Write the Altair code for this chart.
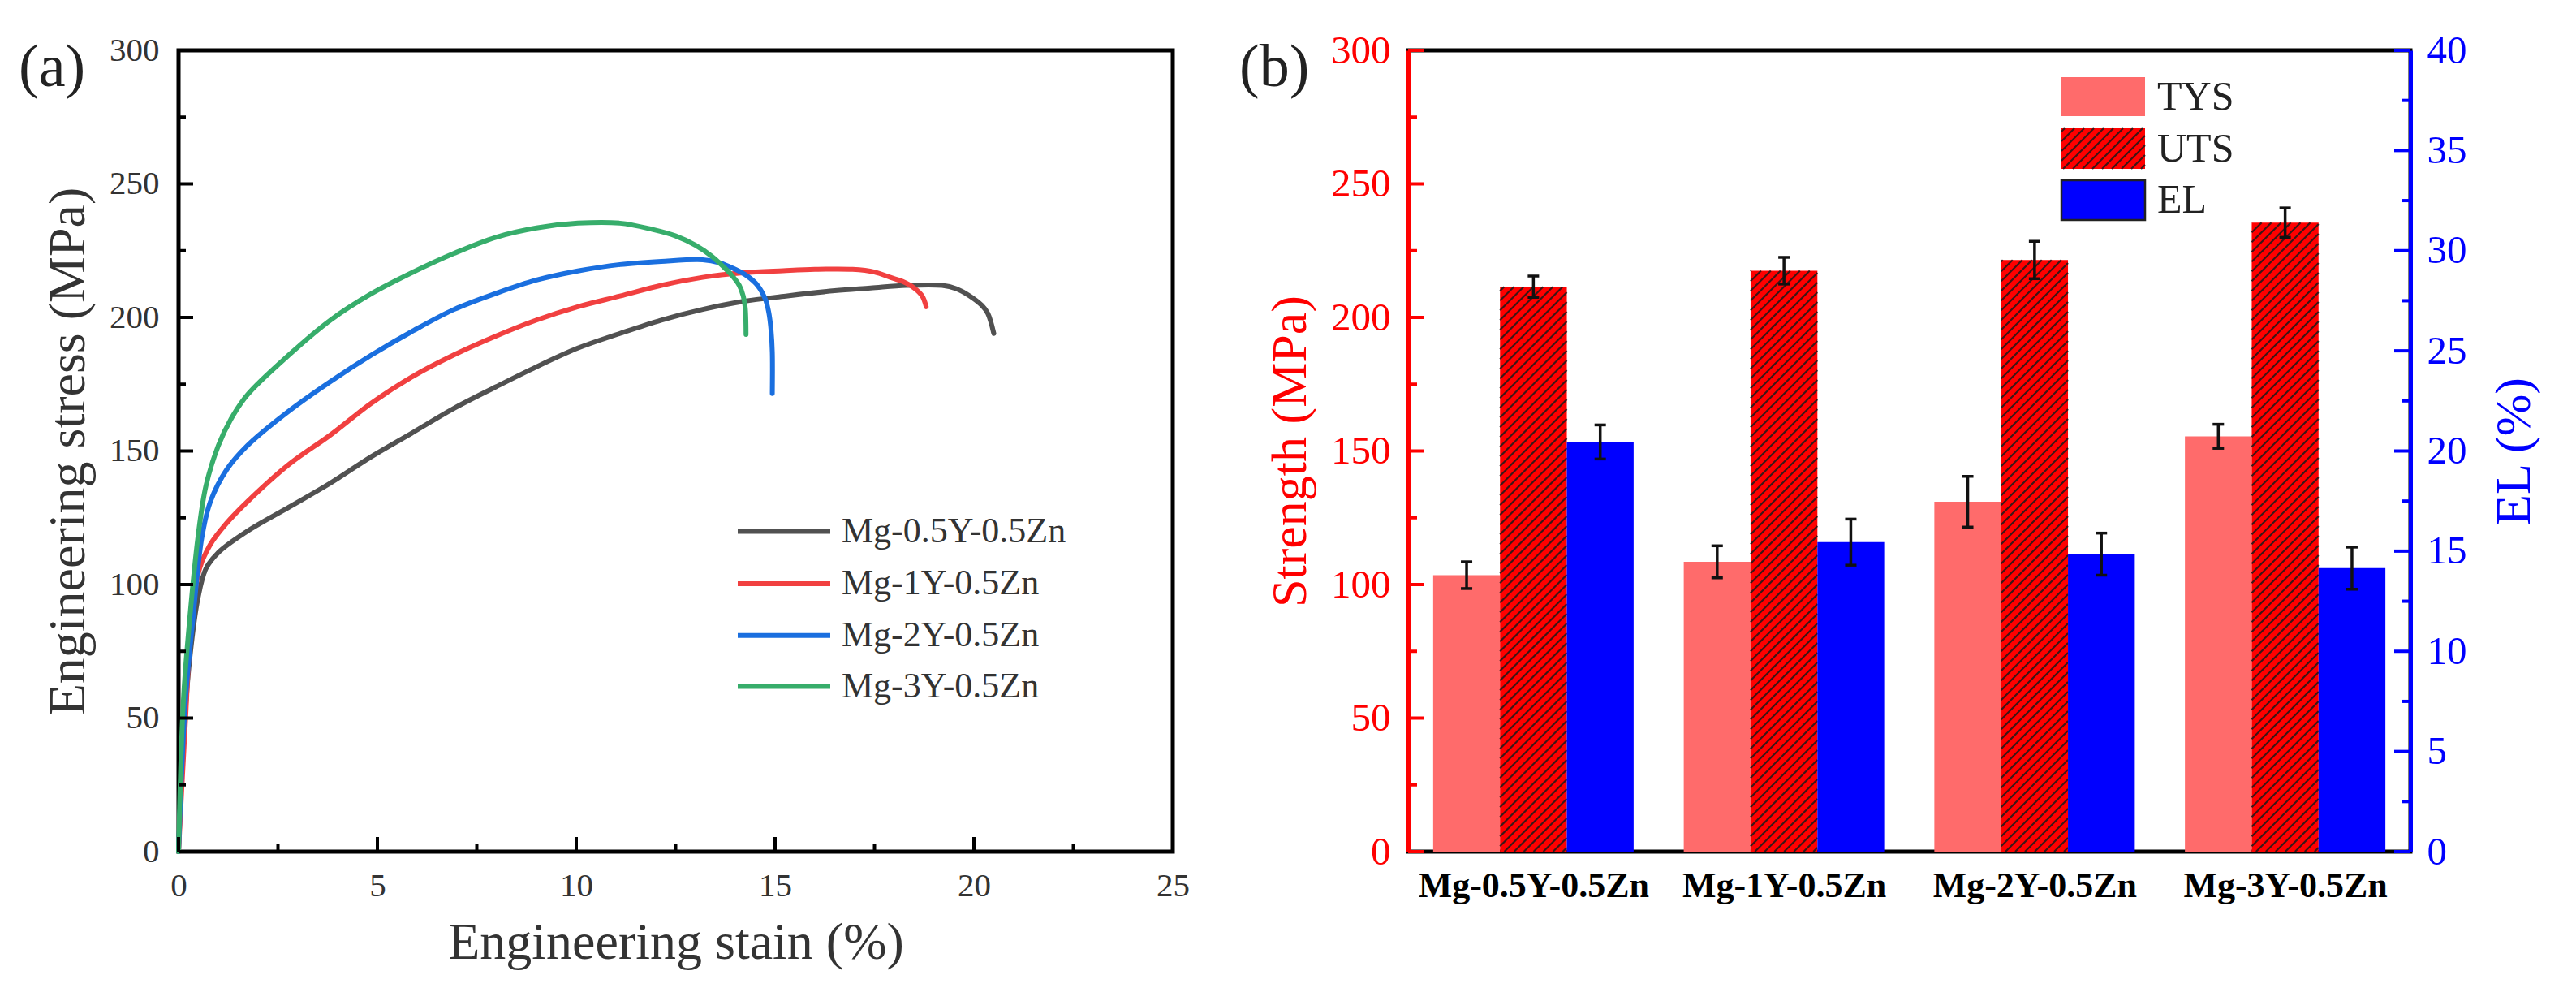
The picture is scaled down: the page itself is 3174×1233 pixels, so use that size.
import altair as alt
import pandas as pd

# ---------------- data ----------------
alloys = ["Mg-0.5Y-0.5Zn", "Mg-1Y-0.5Zn", "Mg-2Y-0.5Zn", "Mg-3Y-0.5Zn"]
line_colors = ["#515151", "#F14040", "#1A6FDF", "#37AD6B"]

strain_05y = [0, 0.12, 0.28, 0.49, 0.69, 1.0, 1.73, 2.78, 3.82, 4.86, 5.9, 6.93, 7.98, 9.0,
              10.04, 11.1, 12.14, 13.18, 14.2, 15.27, 16.5, 17.4, 18.3, 19.2, 19.55, 19.9,
              20.2, 20.35, 20.5]
stress_05y = [0, 41, 72, 95, 106, 112, 120, 129, 138, 148, 157, 166, 174, 181.5,
              188.5, 194, 199, 203, 206, 208, 210, 211, 212, 212, 210.8, 208,
              204.5, 201.5, 194]

strain_1y = [0, 0.17, 0.33, 0.53, 0.8, 1.21, 1.73, 2.78, 3.82, 4.86, 5.9, 6.93, 7.98, 9.0,
             10.04, 11.1, 12.14, 13.18, 14.2, 15.2, 16.0, 16.95, 17.5, 17.9, 18.2, 18.5,
             18.7, 18.8]
stress_1y = [0, 48, 87, 106, 115, 123, 131, 145, 156, 168, 178, 186, 193, 199,
             204, 208, 212, 215, 216.7, 217.5, 218, 218, 217, 215, 213.5, 211,
             208, 204]

strain_2y = [0, 0.17, 0.36, 0.59, 0.8, 1.21, 1.73, 2.78, 3.82, 4.86, 5.9, 6.93, 7.98, 9.0,
             10.04, 11.1, 12.14, 13.18, 13.6, 14.0, 14.3, 14.56, 14.75, 14.84, 14.9, 14.93,
             14.93]
stress_2y = [0, 56, 87, 118, 131, 143, 152, 165, 176, 186, 195, 203, 209, 214,
             217.4, 219.8, 221, 221.6, 220.5, 218, 215.5, 212, 207, 202, 195, 187,
             171.5]

strain_3y = [0, 0.12, 0.28, 0.49, 0.69, 1.0, 1.32, 1.73, 2.78, 3.82, 4.86, 5.9, 6.93, 7.98,
             9.0, 10.04, 11.1, 11.9, 12.5, 13.0, 13.4, 13.7, 13.9, 14.1, 14.2, 14.25, 14.27]
stress_3y = [0, 56, 87, 118, 137, 152, 162, 171, 186, 199, 209, 217, 224, 230,
             233.5, 235.3, 235.3, 233, 230.5, 227, 223, 219, 216, 212, 208, 203.6, 193.6]

metrics = ["TYS", "UTS", "EL"]
bar_colors = ["#FF6B6B", "#FF0000", "#0000FF"]
tys = [103.5, 108.5, 131.0, 155.5]
tys_err = [5.0, 6.0, 9.5, 4.5]
uts = [211.5, 217.5, 221.5, 235.5]
uts_err = [4.0, 5.0, 7.0, 5.5]
el = [20.45, 15.45, 14.85, 14.15]
el_err = [0.85, 1.15, 1.05, 1.05]

# ---------------- layout constants ----------------
FONT = "Liberation Serif"
WA, HA = 1225, 987
WB, HB = 1235, 987
ONE = pd.DataFrame({"k": [0]})

# ================= panel (a) =================
rows = []
for name, xs, ys in zip(alloys, [strain_05y, strain_1y, strain_2y, strain_3y],
                        [stress_05y, stress_1y, stress_2y, stress_3y]):
    for i, (x, y) in enumerate(zip(xs, ys)):
        rows.append({"alloy": name, "strain": x, "stress": y, "idx": i})
curves_df = pd.DataFrame(rows)

xsa = alt.Scale(domain=[0, 25], nice=False, zero=False)
ysa = alt.Scale(domain=[0, 300], nice=False)
color_a = alt.Color("alloy:N", scale=alt.Scale(domain=alloys, range=line_colors), legend=None)

XT_A = "Engineering stain (%)"
YT_A = "Engineering stress (MPa)"

curves = alt.Chart(curves_df).mark_line(strokeWidth=6, strokeJoin="round", strokeCap="round",
                                        interpolate="catmull-rom").encode(
    x=alt.X("strain:Q", scale=xsa, title=XT_A,
            axis=alt.Axis(values=[0, 5, 10, 15, 20, 25], ticks=False, labelFont=FONT,
                          domain=False, labelFlush=False, labelFontSize=41, labelColor="#333",
                          labelPadding=22, titleFontSize=64, titleColor="#333", titlePadding=18)),
    y=alt.Y("stress:Q", scale=ysa, title=YT_A,
            axis=alt.Axis(values=list(range(0, 301, 50)), ticks=False, labelFont=FONT,
                          domain=False, labelFontSize=41, labelColor="#333", labelPadding=24,
                          titleFontSize=64, titleColor="#333", titlePadding=18)),
    color=color_a,
    order=alt.Order("idx:Q"),
)

def tick_rules(vals, scale, length, color, side, size=None, title=None):
    df = pd.DataFrame({"v": vals})
    if side == "left":
        enc = dict(y=alt.Y("v:Q", scale=scale, title=title), x=alt.value(0), x2=alt.value(length))
    elif side == "right":
        enc = dict(y=alt.Y("v:Q", scale=scale, title=title), x=alt.value(size - length), x2=alt.value(size))
    else:  # bottom
        enc = dict(x=alt.X("v:Q", scale=scale, title=title), y=alt.value(size), y2=alt.value(size - length))
    return alt.Chart(df).mark_rule(color=color, strokeWidth=4).encode(**enc)

ya_major = tick_rules(list(range(0, 301, 50)), ysa, 18, "black", "left", title=YT_A)
ya_minor = tick_rules(list(range(25, 300, 50)), ysa, 9, "black", "left", title=YT_A)
xa_major = tick_rules([0, 5, 10, 15, 20, 25], xsa, 18, "black", "bottom", HA, title=XT_A)
xa_minor = tick_rules([2.5, 7.5, 12.5, 17.5, 22.5], xsa, 9, "black", "bottom", HA, title=XT_A)

# legend (a): lines + labels placed in pixels inside the plot
leg_a_rows = [592.5, 657.0, 720.7, 783.6]
leg_a = []
for name, col, py in zip(alloys, line_colors, leg_a_rows):
    leg_a.append(alt.Chart(ONE).mark_rule(strokeWidth=6, color=col).encode(
        x=alt.value(689), x2=alt.value(803), y=alt.value(py)))
    leg_a.append(alt.Chart(ONE).mark_text(align="left", baseline="middle", font=FONT, fontSize=44,
                                          color="#333", text=name).encode(
        x=alt.value(817), y=alt.value(py)))
label_a = alt.Chart(ONE).mark_text(align="left", baseline="middle", font=FONT, fontSize=74,
                                   color="#222", text="(a)").encode(x=alt.value(-197), y=alt.value(22))

panel_a = alt.layer(curves, ya_major, ya_minor, xa_major, xa_minor, *leg_a, label_a).properties(
    width=WA, height=HA)

# ================= panel (b) =================
BW = 0.8 / 3
PXU = WB / 4.0
PYU = HB / 300.0
CAP = 7 / PXU

def bar_frame(vals, errs, k):
    xc = [g + (k - 1) * BW for g in range(4)]
    return pd.DataFrame({
        "xc": xc,
        "x1": [c - BW / 2 for c in xc],
        "x2": [c + BW / 2 for c in xc],
        "val": vals,
        "zero": [0] * 4,
        "lo": [v - e for v, e in zip(vals, errs)],
        "hi": [v + e for v, e in zip(vals, errs)],
        "cl": [c - CAP for c in xc],
        "cr": [c + CAP for c in xc],
    })

tys_df = bar_frame(tys, tys_err, 0)
uts_df = bar_frame(uts, uts_err, 1)
el_df = bar_frame(el, el_err, 2)

def caps_frame(df):
    a = df[["cl", "cr", "lo"]].rename(columns={"lo": "yv"})
    b = df[["cl", "cr", "hi"]].rename(columns={"hi": "yv"})
    return pd.concat([a, b], ignore_index=True)

xsb = alt.Scale(domain=[-0.5, 3.5], nice=False, zero=False)
ysS = alt.Scale(domain=[0, 300], nice=False)
ysE = alt.Scale(domain=[0, 40], nice=False)
YT_S = "Strength (MPa)"
YT_E = "EL (%)"

label_expr = "[" + ",".join("'" + a + "'" for a in alloys) + "][datum.value]"
xaxis_b = alt.Axis(values=[0, 1, 2, 3], labelExpr=label_expr, ticks=False, domain=False,
                   labelFlush=False, labelFontWeight="bold", labelFontSize=44, labelColor="black",
                   labelFont=FONT, labelLimit=0, labelPadding=20, title=None)
yaxis_S = alt.Axis(orient="left", values=list(range(0, 301, 50)), ticks=False, labelFont=FONT,
                   domainColor="#FF0000", domainWidth=5, labelColor="#FF0000", labelFontSize=49,
                   labelPadding=22, titleColor="#FF0000", titleFontSize=62, titlePadding=18, zindex=1)
yaxis_E = alt.Axis(orient="right", values=list(range(0, 41, 5)), ticks=False, labelFont=FONT,
                   domainColor="#0000FF", domainWidth=5, labelColor="#0000FF", labelFontSize=49,
                   labelPadding=20, titleColor="#0000FF", titleFontSize=62, titlePadding=28,
                   titleAngle=270, titleBaseline="top", zindex=1)

tys_bars = alt.Chart(tys_df).mark_rect(color=bar_colors[0]).encode(
    x=alt.X("x1:Q", scale=xsb, axis=xaxis_b, title=None), x2="x2:Q",
    y=alt.Y("val:Q", scale=ysS, axis=yaxis_S, title=YT_S), y2="zero:Q")
uts_bars = alt.Chart(uts_df).mark_rect(color=bar_colors[1]).encode(
    x=alt.X("x1:Q", scale=xsb, title=None), x2="x2:Q",
    y=alt.Y("val:Q", scale=ysS, title=YT_S), y2="zero:Q")

# hatch lines for UTS bars (fill pattern)
HS = 12
hatch_rows = []
for x1, v in zip(uts_df["x1"], uts_df["val"]):
    wpx, hpx = BW * PXU, v * PYU
    c = -wpx + 5
    while c < hpx:
        u0, u1 = max(0.0, -c), min(wpx, hpx - c)
        if u1 > u0:
            hatch_rows.append({"hx1": x1 + u0 / PXU, "hy1": (u0 + c) / PYU,
                               "hx2": x1 + u1 / PXU, "hy2": (u1 + c) / PYU})
        c += HS
hatch_df = pd.DataFrame(hatch_rows)
hatch = alt.Chart(hatch_df).mark_rule(color="#1a1a1a", strokeWidth=2.2, opacity=0.85).encode(
    x=alt.X("hx1:Q", scale=xsb, title=None), x2="hx2:Q",
    y=alt.Y("hy1:Q", scale=ysS, title=YT_S), y2="hy2:Q")

def err_layers(df, yscale, ytitle):
    stem = alt.Chart(df).mark_rule(color="#111", strokeWidth=3.5).encode(
        x=alt.X("xc:Q", scale=xsb, title=None),
        y=alt.Y("lo:Q", scale=yscale, title=ytitle), y2="hi:Q")
    caps = alt.Chart(caps_frame(df)).mark_rule(color="#111", strokeWidth=3.5).encode(
        x=alt.X("cl:Q", scale=xsb, title=None), x2="cr:Q",
        y=alt.Y("yv:Q", scale=yscale, title=ytitle))
    return [stem, caps]

yb_major = tick_rules(list(range(0, 301, 50)), ysS, 20, "#FF0000", "left", title=YT_S)
yb_minor = tick_rules(list(range(25, 300, 50)), ysS, 11, "#FF0000", "left", title=YT_S)

# legend (b) in pixels
sw_l, sw_r = 805, 908
sw_rows = [(33, 81), (96, 146), (160, 209)]
txt_rows = [58, 122, 185]
leg_b = []
for name, col, (t, b), ty in zip(metrics, bar_colors, sw_rows, txt_rows):
    if name == "EL":
        leg_b.append(alt.Chart(ONE).mark_rect(color=col, stroke="#222", strokeWidth=2.5).encode(
            x=alt.value(sw_l), x2=alt.value(sw_r), y=alt.value(t), y2=alt.value(b)))
    else:
        leg_b.append(alt.Chart(ONE).mark_rect(color=col).encode(
            x=alt.value(sw_l), x2=alt.value(sw_r), y=alt.value(t), y2=alt.value(b)))
    leg_b.append(alt.Chart(ONE).mark_text(align="left", baseline="middle", font=FONT, fontSize=50,
                                          color="#222", text=name).encode(
        x=alt.value(923), y=alt.value(ty)))
# hatch in the UTS swatch
sw_t, sw_b = sw_rows[1]
wpx, hpx = sw_r - sw_l, sw_b - sw_t
c = -wpx + 5
while c < hpx:
    u0, u1 = max(0.0, -c), min(wpx, hpx - c)
    if u1 > u0:
        leg_b.append(alt.Chart(ONE).mark_rule(color="#1a1a1a", strokeWidth=2.2, opacity=0.85).encode(
            x=alt.value(sw_l + u0), y=alt.value(sw_b - (u0 + c)),
            x2=alt.value(sw_l + u1), y2=alt.value(sw_b - (u1 + c))))
    c += HS
label_b = alt.Chart(ONE).mark_text(align="left", baseline="middle", font=FONT, fontSize=74,
                                   color="#222", text="(b)").encode(x=alt.value(-208), y=alt.value(22))

strength = alt.layer(tys_bars, uts_bars, hatch, *err_layers(tys_df, ysS, YT_S),
                     *err_layers(uts_df, ysS, YT_S), yb_major, yb_minor, *leg_b, label_b)

el_bars = alt.Chart(el_df).mark_rect(color=bar_colors[2]).encode(
    x=alt.X("x1:Q", scale=xsb, title=None), x2="x2:Q",
    y=alt.Y("val:Q", scale=ysE, axis=yaxis_E, title=YT_E), y2="zero:Q")
ye_major = tick_rules(list(range(0, 41, 5)), ysE, 20, "#0000FF", "right", WB, title=YT_E)
ye_minor = tick_rules([2.5 + 5 * i for i in range(8)], ysE, 11, "#0000FF", "right", WB, title=YT_E)
elong = alt.layer(el_bars, *err_layers(el_df, ysE, YT_E), ye_major, ye_minor)

panel_b = alt.layer(strength, elong).resolve_scale(y="independent").properties(width=WB, height=HB)

chart = alt.hconcat(panel_a, panel_b, spacing=56).properties(
    padding={"left": 12, "top": 27, "right": 5, "bottom": 5}, background="white"
).configure_axis(
    grid=False, labelFont=FONT, titleFont=FONT, titleFontWeight="normal"
).configure_view(stroke="black", strokeWidth=5)

chart.save("out.html", embed_options={"renderer": "svg", "actions": False})
